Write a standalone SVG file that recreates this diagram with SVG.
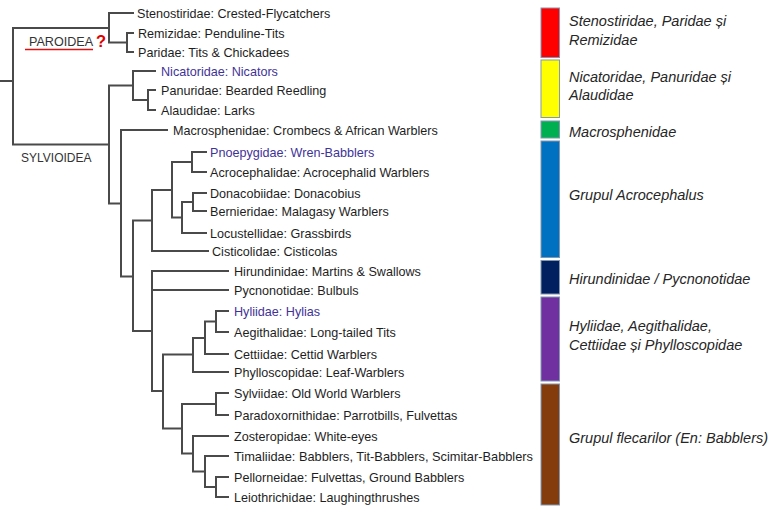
<svg xmlns="http://www.w3.org/2000/svg" width="771" height="508" viewBox="0 0 771 508">
<style>
.ln{fill:none;stroke:#4a4a4a;stroke-width:2;stroke-linecap:square}
.t{font-family:"Liberation Sans",Arial,sans-serif;font-size:12.6px;fill:#1e1e1e}
.b{fill:#3f3398}
.lg{font-family:"Liberation Sans",Arial,sans-serif;font-size:14.5px;font-style:italic;fill:#262626}
.bar{stroke:#8497b0;stroke-width:1}
.cl{font-family:"Liberation Sans",Arial,sans-serif;fill:#333}
</style>
<rect width="771" height="508" fill="#fff"/>
<g id="connectors">
<path class="ln" d="M0 81H13M13 28V144.5M13 28H109M13 144.5H109"/>
<path class="ln" d="M109 13V42.5M109 13H133M109 42.5H127M127 33V52M127 33H133M127 52H133"/>
<path class="ln" d="M109 85.5V203.5M109 85.5H133M109 203.5H121"/>
<path class="ln" d="M133 71V100M133 71H155M133 100H148M148 90V110M148 90H155M148 110H155"/>
<path class="ln" d="M121 130V276.5M121 130H167M121 276.5H133"/>
<path class="ln" d="M133 220.5V331M133 220.5H152M133 331H152"/>
<path class="ln" d="M152 190V251M152 190H172M152 251H208"/>
<path class="ln" d="M172 162V217.5M172 162H192M172 217.5H182M192 152V172M192 152H206M192 172H206"/>
<path class="ln" d="M182 202V233M182 202H193M182 233H206M193 193V211M193 193H206M193 211H206"/>
<path class="ln" d="M152 271V391M152 271H228M152 290H228M152 391H163"/>
<path class="ln" d="M163 354.5V428.5M163 354.5H193M163 428.5H182"/>
<path class="ln" d="M193 338V372M193 338H205M193 372H228M205 321.5V354M205 321.5H216M205 354H228M216 311V332M216 311H228M216 332H228"/>
<path class="ln" d="M182 404V453.5M182 404H216M182 453.5H193M216 393V415M216 393H228M216 415H228"/>
<path class="ln" d="M193 436V471.5M193 436H228M193 471.5H205M205 456V487M205 456H228M205 487H216M216 477V497M216 477H228M216 497H228"/>
</g>
<g id="clade-paroidea">
<text class="cl" x="29" y="45.7" font-size="12.6">PAROIDEA</text>
<line x1="25" y1="49.5" x2="93" y2="49.5" stroke="#e01010" stroke-width="1.3"/>
<text x="96" y="46.7" font-family="Liberation Sans,Arial,sans-serif" font-size="16.5" font-weight="bold" fill="#e00000">?</text>
</g>
<g id="clade-sylvioidea"><text class="cl" x="21" y="162" font-size="12">SYLVIOIDEA</text></g>
<g id="leaf-stenostiridae"><text class="t" x="137" y="17.5">Stenostiridae: Crested-Flycatchers</text></g>
<g id="leaf-remizidae"><text class="t" x="138" y="37.5">Remizidae: Penduline-Tits</text></g>
<g id="leaf-paridae"><text class="t" x="138" y="56.5">Paridae: Tits &amp; Chickadees</text></g>
<g id="leaf-nicatoridae"><text class="t b" x="161" y="75.5">Nicatoridae: Nicators</text></g>
<g id="leaf-panuridae"><text class="t" x="161" y="94.5">Panuridae: Bearded Reedling</text></g>
<g id="leaf-alaudidae"><text class="t" x="161" y="114.5">Alaudidae: Larks</text></g>
<g id="leaf-macrosphenidae"><text class="t" x="173" y="134.5">Macrosphenidae: Crombecs &amp; African Warblers</text></g>
<g id="leaf-pnoepygidae"><text class="t b" x="210" y="156.5">Pnoepygidae: Wren-Babblers</text></g>
<g id="leaf-acrocephalidae"><text class="t" x="210" y="176.5">Acrocephalidae: Acrocephalid Warblers</text></g>
<g id="leaf-donacobiidae"><text class="t" x="210" y="197.5">Donacobiidae: Donacobius</text></g>
<g id="leaf-bernieridae"><text class="t" x="210" y="215.5">Bernieridae: Malagasy Warblers</text></g>
<g id="leaf-locustellidae"><text class="t" x="210" y="237.5">Locustellidae: Grassbirds</text></g>
<g id="leaf-cisticolidae"><text class="t" x="212" y="255.5">Cisticolidae: Cisticolas</text></g>
<g id="leaf-hirundinidae"><text class="t" x="234" y="275.5">Hirundinidae: Martins &amp; Swallows</text></g>
<g id="leaf-pycnonotidae"><text class="t" x="234" y="294.5">Pycnonotidae: Bulbuls</text></g>
<g id="leaf-hyliidae"><text class="t b" x="234" y="315.5">Hyliidae: Hylias</text></g>
<g id="leaf-aegithalidae"><text class="t" x="234" y="336.5">Aegithalidae: Long-tailed Tits</text></g>
<g id="leaf-cettiidae"><text class="t" x="234" y="358.5">Cettiidae: Cettid Warblers</text></g>
<g id="leaf-phylloscopidae"><text class="t" x="234" y="376.5">Phylloscopidae: Leaf-Warblers</text></g>
<g id="leaf-sylviidae"><text class="t" x="234" y="397.5">Sylviidae: Old World Warblers</text></g>
<g id="leaf-paradoxornithidae"><text class="t" x="234" y="419.5">Paradoxornithidae: Parrotbills, Fulvettas</text></g>
<g id="leaf-zosteropidae"><text class="t" x="234" y="440.5">Zosteropidae: White-eyes</text></g>
<g id="leaf-timaliidae"><text class="t" x="234" y="460.5" textLength="299" lengthAdjust="spacingAndGlyphs">Timaliidae: Babblers, Tit-Babblers, Scimitar-Babblers</text></g>
<g id="leaf-pellorneidae"><text class="t" x="234" y="481.5">Pellorneidae: Fulvettas, Ground Babblers</text></g>
<g id="leaf-leiothrichidae"><text class="t" x="234" y="501.5">Leiothrichidae: Laughingthrushes</text></g>
<g id="legend-red"><rect class="bar" x="541" y="8" width="18.5" height="49.5" fill="#ff0000"/><text class="lg" x="569" y="25.5">Stenostiridae, Paridae și</text><text class="lg" x="569" y="44.5">Remizidae</text></g>
<g id="legend-yellow"><rect class="bar" x="541" y="60" width="18.5" height="57.5" fill="#ffff00"/><text class="lg" x="569" y="81.5">Nicatoridae, Panuridae și</text><text class="lg" x="569" y="99.5">Alaudidae</text></g>
<g id="legend-green"><rect class="bar" x="541" y="121" width="18.5" height="17" fill="#00b050"/><text class="lg" x="569" y="136.5">Macrosphenidae</text></g>
<g id="legend-blue"><rect class="bar" x="541" y="141" width="18.5" height="116.5" fill="#0070c0"/><text class="lg" x="569" y="200">Grupul Acrocephalus</text></g>
<g id="legend-navy"><rect class="bar" x="541" y="260.5" width="18.5" height="33.5" fill="#002060"/><text class="lg" x="569" y="283.5">Hirundinidae / Pycnonotidae</text></g>
<g id="legend-purple"><rect class="bar" x="541" y="297" width="18.5" height="84" fill="#7030a0"/><text class="lg" x="569" y="331">Hyliidae, Aegithalidae,</text><text class="lg" x="569" y="350">Cettiidae și Phylloscopidae</text></g>
<g id="legend-brown"><rect class="bar" x="541" y="384" width="18.5" height="121" fill="#843c0c"/><text class="lg" x="569" y="442.5">Grupul flecarilor (En: Babblers)</text></g>
</svg>
